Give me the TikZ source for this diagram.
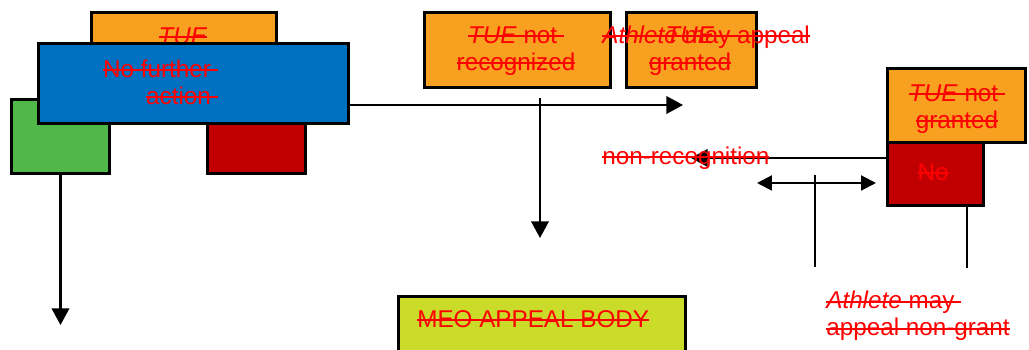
\documentclass[tikz,border=0pt]{standalone}
\usepackage{fontspec}
\setmainfont{Liberation Sans}
\usetikzlibrary{arrows.meta}

\definecolor{tueOrange}{HTML}{F8A01F}
\definecolor{nfaBlue}{HTML}{0070C0}
\definecolor{yesGreen}{HTML}{50B848}
\definecolor{noRed}{HTML}{C00000}
\definecolor{meoLime}{HTML}{CBDB2A}
\newsavebox{\strikebox}
\newcommand{\strikeText}[1]{\sbox{\strikebox}{#1}\usebox{\strikebox}\llap{\rule[0.25em]{\wd\strikebox}{1.1pt}}}

\begin{document}
\begin{tikzpicture}
[x=0.02cm,y=-0.02cm,
  boxDecorate/.style={draw,line width=1.7pt,inner sep=0pt,anchor=north west},
  textDecorate/.style={text=red,font=\fontsize{13.8}{15.4}\selectfont,inner sep=0pt,align=center},
  arrowDecorate/.style={-{Triangle[length=9.5pt,width=10pt]},line width=1.2pt},
  dblArrowDecorate/.style={{Triangle[length=8.5pt,width=8.5pt]}-{Triangle[length=8.5pt,width=8.5pt]},line width=1.2pt},
  lineDecorate/.style={-,line width=0.9pt}]
\useasboundingbox (0,0) rectangle (1029,350);
%% boxes behind the blue one
\foreach \nodename/\xa/\ya/\xb/\yb/\fillcolor in {
  tueTop/90/11/275/60/tueOrange, yesBox/10/98/108/172/yesGreen,
  noBoxA/206/100/304/172/noRed}
{
  \node (\nodename) at (\xa,\ya) [boxDecorate,fill=\fillcolor,
    minimum width={(\xb-\xa)*0.02cm},minimum height={(\yb-\ya)*0.02cm}] {};
}
\node (tueTopText) at (183,36) [textDecorate] {\strikeText{\textit{TUE}}};
%% blue box on top
\node (nfaBox) at (37,42) [boxDecorate,fill=nfaBlue,
  minimum width={310*0.02cm},minimum height={80*0.02cm}] {};
\node (nfaText) at (218,82) [textDecorate,align=right,anchor=east] {\strikeText{No further }\\\strikeText{action }};
%% other boxes
\foreach \nodename/\xa/\ya/\xb/\yb/\fillcolor in {
  tueNR/423/11/609/86/tueOrange, tueG/625/11/755/86/tueOrange,
  tueNG/886/67/1024/141/tueOrange, noBox/886/141/982/204/noRed,
  meoBox/397/295/684/380/meoLime}
{
  \node (\nodename) at (\xa,\ya) [boxDecorate,fill=\fillcolor,
    minimum width={(\xb-\xa)*0.02cm},minimum height={(\yb-\ya)*0.02cm}] {};
}
%% edges or lines
\coordinate (nfaEnd) at (683,105);
\coordinate (nrTop) at (540,98);
\coordinate (nrEnd) at (540,238);
\coordinate (yesEnd) at (60,325);
\coordinate (nonRecEnd) at (691,158);
\coordinate (dblL) at (757,183);
\coordinate (dblR) at (876,183);
\coordinate (vA1) at (815,175);
\coordinate (vA2) at (815,267);
\coordinate (vB2) at (967,268);
\draw[arrowDecorate] (nfaBox.east |- nfaEnd) -- (nfaEnd);
\draw[arrowDecorate] (nrTop) -- (nrEnd);
\draw[arrowDecorate] (yesBox.south) -- (yesBox.south |- yesEnd);
\draw[arrowDecorate] (noBox.west |- nonRecEnd) -- (nonRecEnd);
\draw[dblArrowDecorate] (dblL) -- (dblR);
\draw[lineDecorate] (vA1) -- (vA2);
\draw[lineDecorate] (noBox.south -| vB2) -- (vB2);
%% labels
\node (tueNRText) at (516,51) [textDecorate] {\strikeText{\textit{TUE} not }\\\strikeText{recognized}};
\node (tueGText) at (690,51) [textDecorate] {\strikeText{\textit{TUE}}\\\strikeText{granted}};
\node (tueNGText) at (957,109) [textDecorate] {\strikeText{\textit{TUE} not }\\\strikeText{granted}};
\node (noText) at (933,172) [textDecorate] {\strikeText{No}};
\node (appealText) at (602,37) [textDecorate,anchor=west] {\strikeText{\textit{Athlete} may appeal}};
\node (nonRecText) at (602,158) [textDecorate,anchor=west] {\strikeText{non-recognition}};
\node (appealNGText) at (826,316) [textDecorate,align=left,anchor=west] {\strikeText{\textit{Athlete} may }\\\strikeText{appeal non-grant}};
\node (meoText) at (417,319) [textDecorate,anchor=west] {\strikeText{MEO APPEAL BODY}};
\end{tikzpicture}
\end{document}
